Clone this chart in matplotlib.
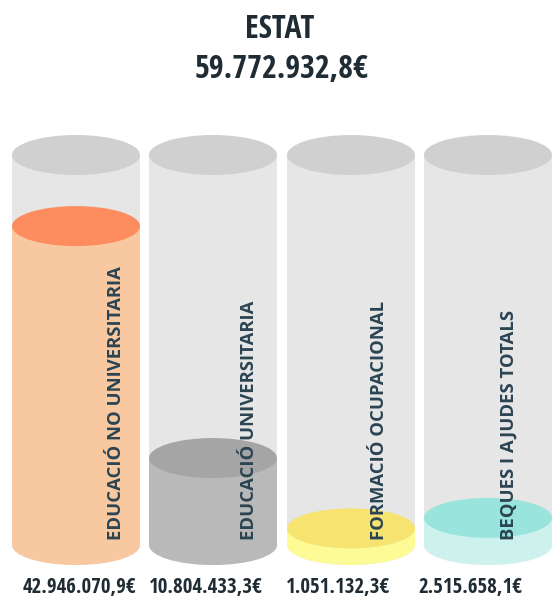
import matplotlib.pyplot as plt
from matplotlib.patches import Ellipse, Rectangle
from matplotlib import font_manager

# Data
categories = ["EDUCACIÓ NO UNIVERSITARIA", "EDUCACIÓ UNIVERSITARIA",
              "FORMACIÓ OCUPACIONAL", "BEQUES I AJUDES TOTALS"]
values = [42946070.9, 10804433.3, 1051132.3, 2515658.1]
total = 59772932.8
title = "ESTAT"

body_colors = ["#f8c9a1", "#b9b9b9", "#fdfb95", "#cdf2ee"]
top_colors = ["#fd8d5f", "#a5a5a5", "#f7e370", "#99e4dc"]

# fonts
names = {f.name for f in font_manager.fontManager.ttflist}
narrow = next((n for n in ["Open Sans Condensed", "Fira Sans Condensed", "Roboto Condensed",
                           "Encode Sans Condensed", "Asap Condensed"] if n in names), "DejaVu Sans")
label_font = "Open Sans" if "Open Sans" in names else "DejaVu Sans"
dark = "#1f2c34"


def fmt(v):
    s = f"{v:,.1f}"
    return s.replace(",", "X").replace(".", ",").replace("X", ".") + "€"


W, H = 553, 598
fig = plt.figure(figsize=(W / 100, H / 100), dpi=100)
ax = fig.add_axes([0, 0, 1, 1])

# y axis in euros: 0 sits at y=536px, 7.216 px per million
px_per_eur = 7.216e-6
zero_px = 536
ax.set_xlim(0, W)
ax.set_ylim((zero_px - H) / px_per_eur, zero_px / px_per_eur)
ax.axis("off")

ell_h = 40 / px_per_eur
bottom_v = (zero_px - 545) / px_per_eur
top_v = (zero_px - 155) / px_per_eur
lefts = [12, 149, 287, 424]
width = 128

for i, (v, left) in enumerate(zip(values, lefts)):
    cx = left + width / 2
    # empty container
    ax.add_patch(Rectangle((left, bottom_v), width, top_v - bottom_v,
                           color="#e6e6e6", lw=0))
    ax.add_patch(Ellipse((cx, bottom_v), width, ell_h, color="#e6e6e6", lw=0))
    ax.add_patch(Ellipse((cx, top_v), width, ell_h, color="#d0d0d0", lw=0))
    # fill
    ax.add_patch(Rectangle((left, bottom_v), width, v - bottom_v,
                           color=body_colors[i], lw=0))
    ax.add_patch(Ellipse((cx, bottom_v), width, ell_h, color=body_colors[i], lw=0))
    ax.add_patch(Ellipse((cx, v), width, ell_h, color=top_colors[i], lw=0))

label_x = [116, 249, 379, 509]
for name, lx in zip(categories, label_x):
    ax.text(lx, (zero_px - 540) / px_per_eur, name, rotation=90,
            ha="center", va="bottom", fontsize=13.3, fontweight="bold",
            color="#2b4452", family=[label_font, "DejaVu Sans"])

value_x = [79, 206, 338, 470]
for v, vx in zip(values, value_x):
    fig.text(vx / W, 1 - 587 / H, fmt(v), ha="center", va="center",
             fontsize=15, fontweight="bold", color=dark,
             family=[narrow, "DejaVu Sans"])

fig.text(280 / W, 1 - 29 / H, title, ha="center", va="center",
         fontsize=23, fontweight="bold", color=dark, family=[narrow, "DejaVu Sans"])
fig.text(281 / W, 1 - 69 / H, fmt(total), ha="center", va="center",
         fontsize=23, fontweight="bold", color=dark, family=[narrow, "DejaVu Sans"])

fig.savefig("out.png", dpi=100)
